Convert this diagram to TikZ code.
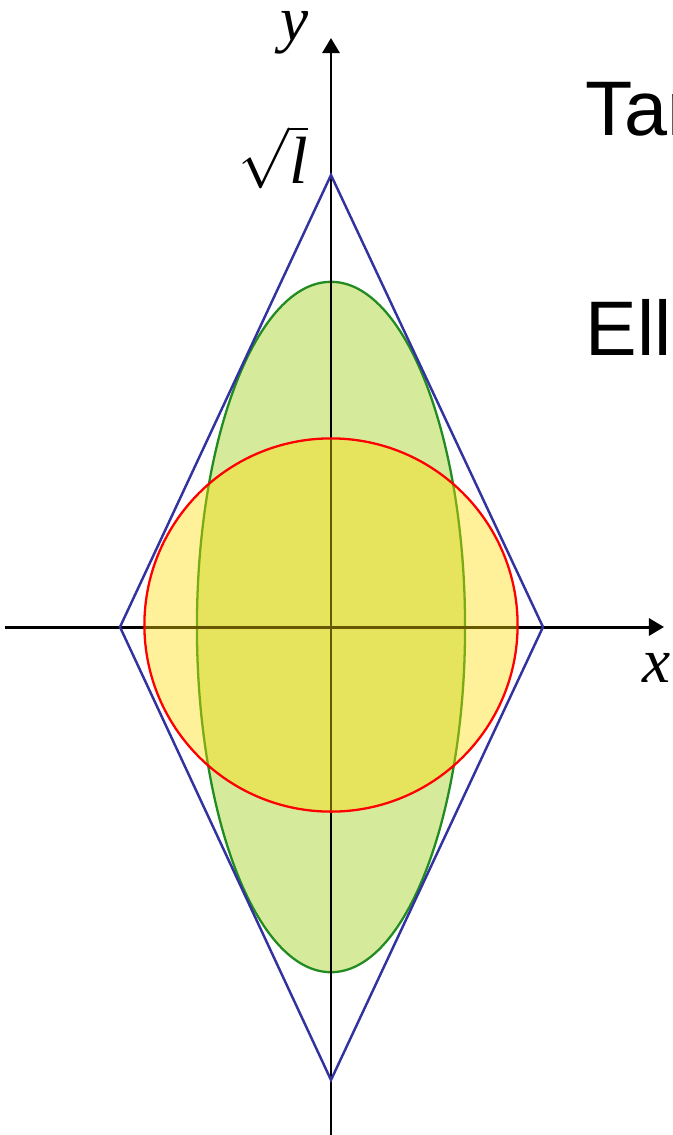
\documentclass[tikz,border=0pt]{standalone}
\usepackage{fontspec}
\setmainfont{Liberation Serif}
\newfontfamily\labelsans{Liberation Sans}
\usetikzlibrary{arrows.meta}
\definecolor{rhombblue}{RGB}{51,51,160}
\definecolor{ellgreen}{RGB}{34,139,34}
\definecolor{ellfill}{RGB}{214,234,155}
\definecolor{circfill}{RGB}{255,220,0}
\tikzset{
  axisline/.style={black,line width=0.85pt,-{Triangle[length=0.15cm,width=0.17cm]}},
  axislabel/.style={font=\fontsize{18pt}{20pt}\selectfont\itshape},
  sidetext/.style={anchor=base west,inner sep=0pt,font=\labelsans\fontsize{22pt}{26pt}\selectfont}
}
\begin{document}
\begin{tikzpicture}[x=0.01cm,y=-0.01cm]
	\useasboundingbox (0,0) rectangle (673,1135);
	\clip (0,0) rectangle (673,1135);
	\coordinate (O) at (331,627);
	\coordinate (xs) at (5,627);
	\coordinate (xe) at (664,627);
	\coordinate (ys) at (331,1135);
	\coordinate (ye) at (331,38);
	\coordinate (top) at (331,175);
	\coordinate (rgt) at (543,627);
	\coordinate (bot) at (331,1080);
	\coordinate (lft) at (120,627);
		% ellipse under the axes
		\draw[ellgreen,line width=0.65pt,fill=ellfill] (O) ellipse [x radius=1.34cm,y radius=3.45cm];
		\draw[axisline] (xs)--(xe);
		\draw[axisline] (ys)--(ye);
		% circle shown see-through
		\fill[circfill,fill opacity=0.4] (331,625) circle [radius=1.865cm];
		\draw[red,line width=0.65pt] (331,625) circle [radius=1.865cm];
		\draw[rhombblue,line width=0.7pt] (top)--(rgt)--(bot)--(lft)--cycle;
		\node[axislabel] (ylab) at (295,33) {y};
		\node[axislabel] (xlab) at (657,668) {x};
		\node[font=\fontsize{19pt}{23pt}\selectfont] (rootl) at (273,157) {$\sqrt{\textit{l}}$};
		\node[sidetext] (tantext) at (585,135) {Tan};
		\node[sidetext] (elltext) at (585,355) {Ell};
\end{tikzpicture}
\end{document}
